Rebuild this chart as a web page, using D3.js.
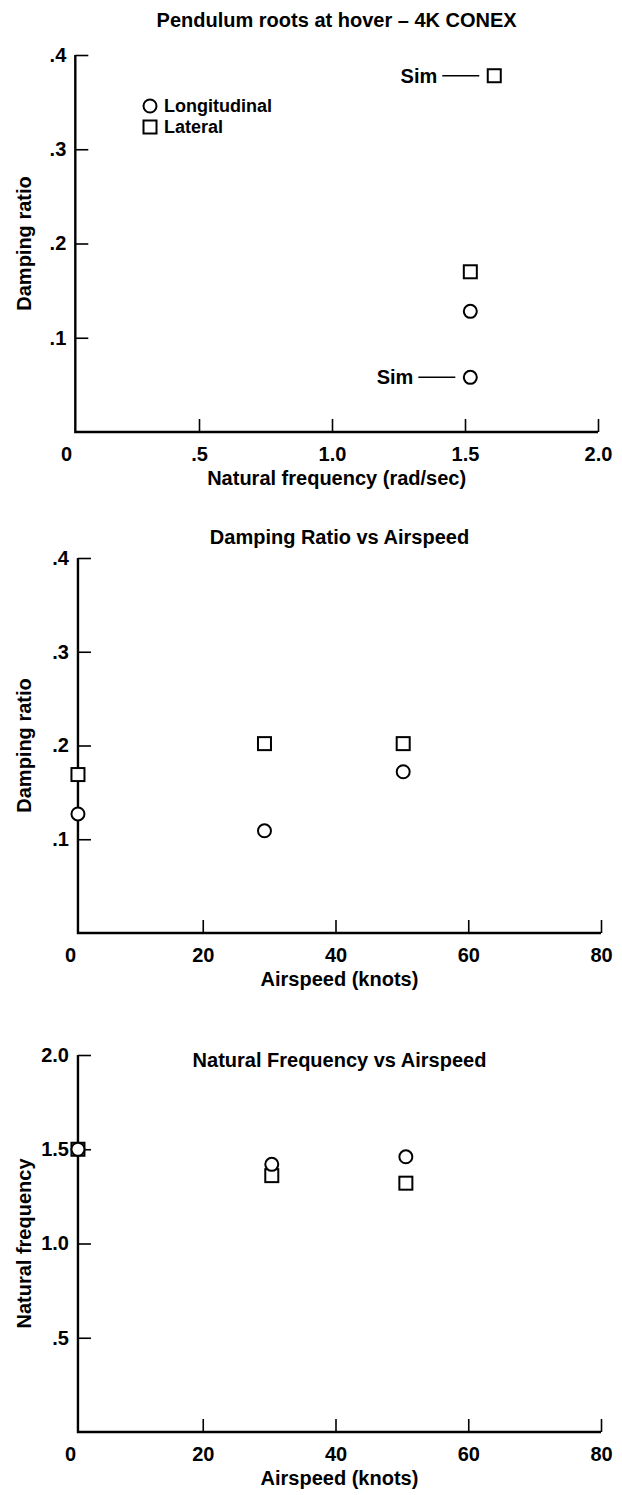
<!DOCTYPE html>
<html>
<head>
<meta charset="utf-8">
<script src="https://cdn.jsdelivr.net/npm/d3@7"></script>
<style>
  body { margin: 0; background: #fff; }
  svg text { font-family: "Liberation Sans", Arial, Helvetica, sans-serif; font-weight: bold; font-size: 20px; fill: #000; }
  svg text.title { font-size: 20px; }
  svg text.legend { font-size: 18px; }
</style>
</head>
<body>
<svg id="chart" width="622" height="1495"></svg>
<script>
// Pendulum roots at hover - flight point and sim point
const pendNotes = ["", "Sim"];
const pendLongFreq = [1.52, 1.52];
const pendLongDamp = [0.128, 0.058];
const pendLatFreq = [1.52, 1.61];
const pendLatDamp = [0.170, 0.378];

// Damping ratio vs airspeed
const dampSpeed = [1.2, 29.3, 50.2];
const dampLong = [0.127, 0.109, 0.172];
const dampLat = [0.169, 0.202, 0.202];

// Natural frequency vs airspeed
const freqSpeed = [1.2, 30.4, 50.6];
const freqLong = [1.5, 1.42, 1.46];
const freqLat = [1.5, 1.36, 1.32];

const legendNames = ["Longitudinal", "Lateral"];
const pendXTicks = [0, 0.5, 1.0, 1.5, 2.0];
const dampYTicks = [0.1, 0.2, 0.3, 0.4];
const speedTicks = [0, 20, 40, 60, 80];
const freqYTicks = [0.5, 1.0, 1.5, 2.0];

const svg = d3.select("#chart");

// ".5", "1.0" style labels like the original report
function fmt(d) {
    if (d === 0) return "0";
    if (Number.isInteger(d) && d >= 10) return String(d);
    return d3.format(".1f")(d).replace(/^0\./, ".");
}

function marker(g, shape, cx, cy) {
    if (shape === "circle") {
        g.append("circle")
            .attr("cx", cx).attr("cy", cy).attr("r", 6.5)
            .attr("fill", "#fff").attr("stroke", "#000").attr("stroke-width", 2);
    } else {
        g.append("rect")
            .attr("x", cx - 6.5).attr("y", cy - 6.5)
            .attr("width", 13).attr("height", 13)
            .attr("fill", "#fff").attr("stroke", "#000").attr("stroke-width", 2);
    }
}

function drawPanel(cfg) {
    let g = svg.append("g");
    let x = d3.scaleLinear().domain(cfg.xDomain).range([cfg.left, cfg.right]);
    let y = d3.scaleLinear().domain(cfg.yDomain).range([cfg.bottom, cfg.top]);
    let xc = x(cfg.xCross);

    // x axis, ticks pointing up into the plot
    g.append("g")
        .attr("transform", `translate(0,${cfg.bottom})`)
        .call(d3.axisBottom(x).tickValues(cfg.xTicks).tickFormat(fmt)
            .tickSizeInner(-13).tickSizeOuter(0).tickPadding(15))
        .call(a => a.attr("font-size", null).attr("font-family", null))
        .call(a => a.select(".domain").remove())
        .call(a => a.selectAll(".tick").filter(d => d === 0).select("line").remove())
        .call(a => a.selectAll(".tick line").attr("stroke-width", 1.6));

    // y axis, ticks pointing right
    g.append("g")
        .attr("transform", `translate(${xc},0)`)
        .call(d3.axisLeft(y).tickValues(cfg.yTicks).tickFormat(fmt)
            .tickSizeInner(-13).tickSizeOuter(0).tickPadding(9))
        .call(a => a.attr("font-size", null).attr("font-family", null))
        .call(a => a.select(".domain").remove())
        .call(a => a.selectAll(".tick line").attr("stroke-width", 1.6));

    // axis lines
    g.append("path")
        .attr("d", `M${xc},${y(cfg.yDomain[1])}V${y(0)}H${x(cfg.xDomain[1])}`)
        .attr("fill", "none").attr("stroke", "#000").attr("stroke-width", 2.4);

    g.append("text")
        .attr("class", "title")
        .attr("x", (xc + cfg.right) / 2).attr("y", cfg.titleY)
        .attr("text-anchor", "middle")
        .text(cfg.title);

    g.append("text")
        .attr("x", (xc + cfg.right) / 2).attr("y", cfg.bottom + 53)
        .attr("text-anchor", "middle")
        .text(cfg.xLabel);

    g.append("text")
        .attr("transform", `translate(24,${(cfg.top + cfg.bottom) / 2}) rotate(-90)`)
        .attr("text-anchor", "middle")
        .attr("dy", "0.35em")
        .text(cfg.yLabel);

    return { g: g, x: x, y: y };
}

// ---- Panel 1: pendulum roots
let p1 = drawPanel({
    xDomain: [0, 2], yDomain: [0, 0.4], xCross: 0.035,
    left: 66, right: 598, top: 55, bottom: 432,
    xTicks: pendXTicks, yTicks: dampYTicks,
    title: "Pendulum roots at hover \u2013 4K CONEX", titleY: 27,
    xLabel: "Natural frequency (rad/sec)", yLabel: "Damping ratio"
});

pendNotes.forEach(function (note, i) {
    let series = [
        { shape: "circle", fx: pendLongFreq[i], dy: pendLongDamp[i] },
        { shape: "square", fx: pendLatFreq[i], dy: pendLatDamp[i] }
    ];
    for (let s of series) {
        let cx = p1.x(s.fx), cy = p1.y(s.dy);
        marker(p1.g, s.shape, cx, cy);
        if (note !== "") {
            // "Sim ——" pointer to the simulation root
            p1.g.append("line")
                .attr("x1", cx - 52).attr("x2", cx - 15)
                .attr("y1", cy).attr("y2", cy)
                .attr("stroke", "#000").attr("stroke-width", 1.5);
            p1.g.append("text")
                .attr("x", cx - 57).attr("y", cy)
                .attr("dy", "0.35em")
                .attr("text-anchor", "end")
                .text(note);
        }
    }
});

// legend
legendNames.forEach(function (name, i) {
    let ly = 106 + i * 21;
    marker(p1.g, i === 0 ? "circle" : "square", 150, ly);
    p1.g.append("text")
        .attr("class", "legend")
        .attr("x", 164).attr("y", ly)
        .attr("dy", "0.36em")
        .text(name);
});

// ---- Panel 2: damping ratio vs airspeed
let p2 = drawPanel({
    xDomain: [0, 80], yDomain: [0, 0.4], xCross: 1.2,
    left: 70, right: 601, top: 558, bottom: 933,
    xTicks: speedTicks, yTicks: dampYTicks,
    title: "Damping Ratio vs Airspeed", titleY: 544,
    xLabel: "Airspeed (knots)", yLabel: "Damping ratio"
});

dampSpeed.forEach(function (v, i) {
    marker(p2.g, "square", p2.x(v), p2.y(dampLat[i]));
    marker(p2.g, "circle", p2.x(v), p2.y(dampLong[i]));
});

// ---- Panel 3: natural frequency vs airspeed
let p3 = drawPanel({
    xDomain: [0, 80], yDomain: [0, 2], xCross: 1.2,
    left: 70, right: 601, top: 1055, bottom: 1432,
    xTicks: speedTicks, yTicks: freqYTicks,
    title: "Natural Frequency vs Airspeed", titleY: 1067,
    xLabel: "Airspeed (knots)", yLabel: "Natural frequency"
});

freqSpeed.forEach(function (v, i) {
    marker(p3.g, "square", p3.x(v), p3.y(freqLat[i]));
    marker(p3.g, "circle", p3.x(v), p3.y(freqLong[i]));
});
</script>
</body>
</html>
